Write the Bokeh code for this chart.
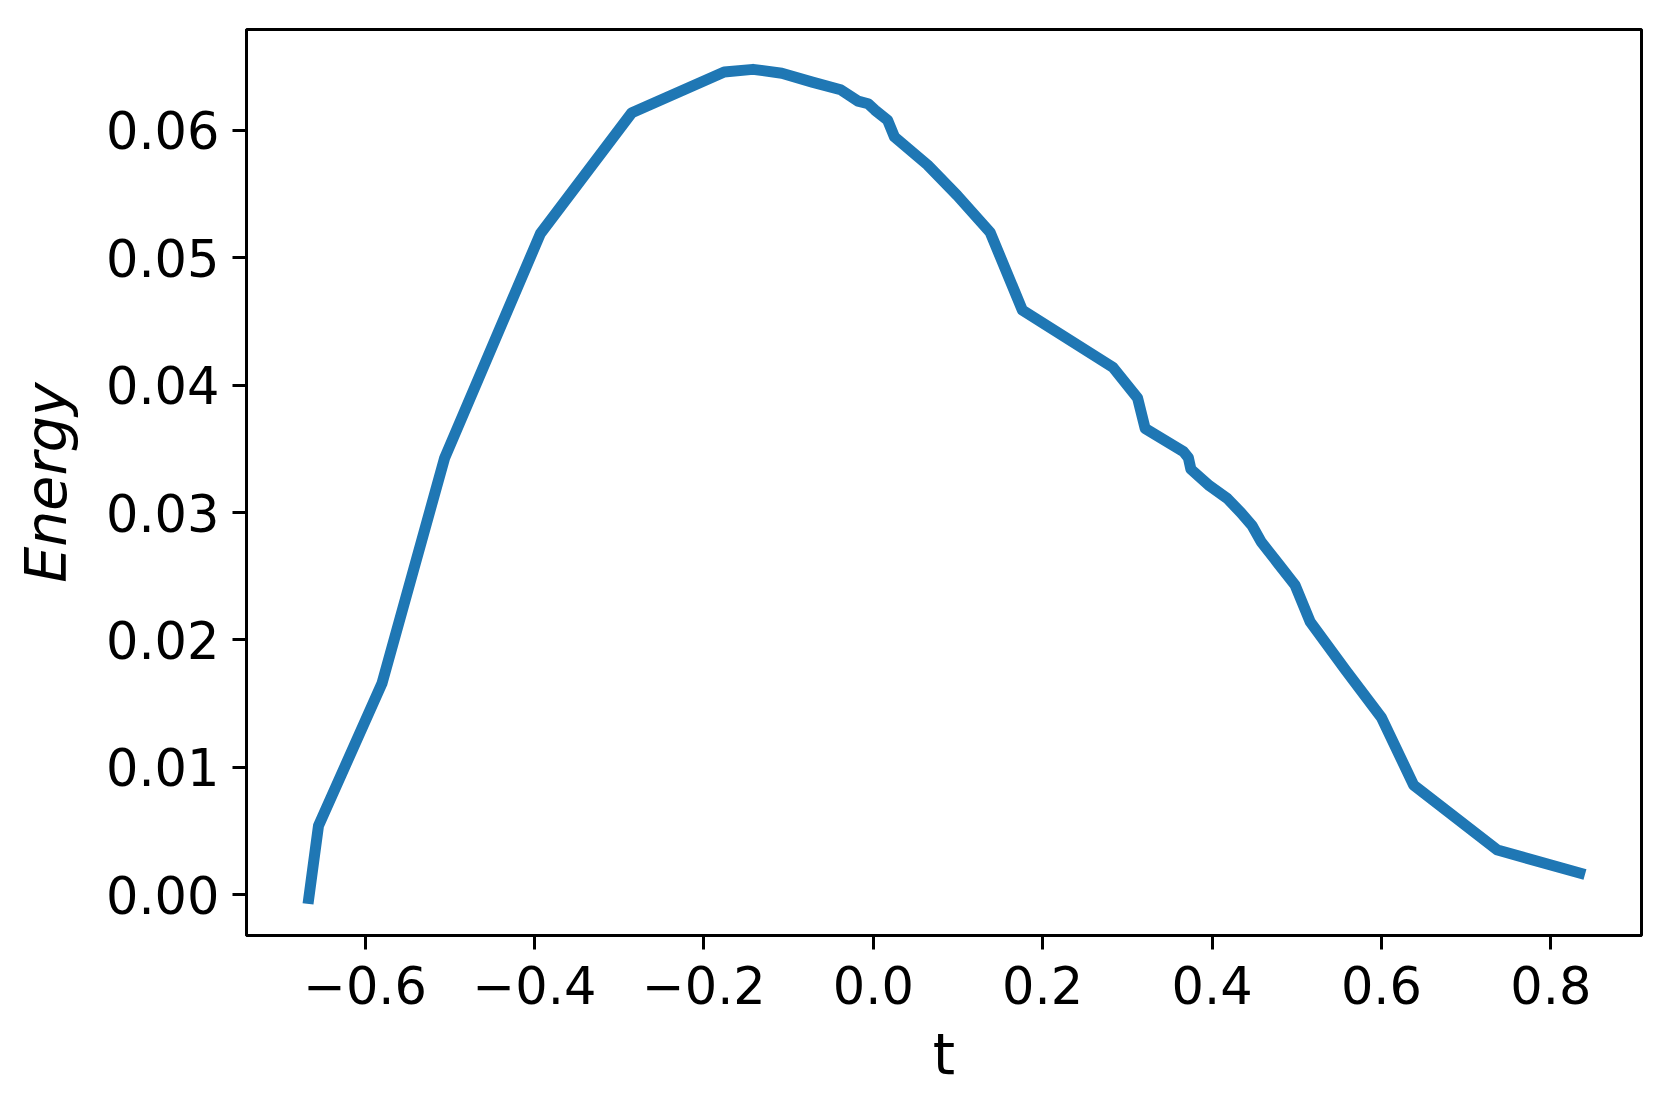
from bokeh.plotting import figure
from bokeh.models import Range1d, FixedTicker
from bokeh.embed import file_html
from bokeh.resources import INLINE

t = [-0.6665, -0.655, -0.580, -0.506, -0.393, -0.285, -0.176, -0.142, -0.108,
     -0.072, -0.0385, -0.018, -0.006, 0.002, 0.017, 0.025, 0.064, 0.099, 0.138,
     0.176, 0.283, 0.312, 0.321, 0.366, 0.372, 0.375, 0.397, 0.418, 0.434,
     0.447, 0.458, 0.478, 0.498, 0.516, 0.558, 0.600, 0.638, 0.737, 0.834]
energy = [-0.0003, 0.0054, 0.0166, 0.0343, 0.0519, 0.0614, 0.0646, 0.0648, 0.0645,
          0.0638, 0.0632, 0.0623, 0.0621, 0.0616, 0.0608, 0.0595, 0.0573, 0.0549, 0.0520,
          0.0459, 0.0414, 0.0390, 0.0366, 0.0348, 0.0343, 0.0334, 0.0321, 0.0311, 0.0300,
          0.0290, 0.0277, 0.0260, 0.0243, 0.0214, 0.0176, 0.0139, 0.0086, 0.0035, 0.0017]

x_ticks = [-0.6, -0.4, -0.2, 0.0, 0.2, 0.4, 0.6, 0.8]
x_tick_labels = ["\u22120.6", "\u22120.4", "\u22120.2", "0.0", "0.2", "0.4", "0.6", "0.8"]
y_ticks = [0.0, 0.01, 0.02, 0.03, 0.04, 0.05, 0.06]
y_tick_labels = ["0.00", "0.01", "0.02", "0.03", "0.04", "0.05", "0.06"]

FONT = "DejaVu Sans"

p = figure(output_backend="svg", toolbar_location=None,
           frame_width=1395, frame_height=906,
           x_range=Range1d(-0.740, 0.907), y_range=Range1d(-0.00321, 0.06793),
           min_border_left=246, min_border_right=22, min_border_top=29, min_border_bottom=165,
           background_fill_color="white", border_fill_color="white")

p.line(t, energy, line_color="#1f77b4", line_width=11, line_join="round", line_cap="square")

p.xgrid.visible = False
p.ygrid.visible = False
p.outline_line_color = "black"
p.outline_line_width = 3
p.outline_line_alpha = 1.0

p.xaxis.ticker = FixedTicker(ticks=x_ticks)
p.yaxis.ticker = FixedTicker(ticks=y_ticks)
p.xaxis.major_label_overrides = dict(zip(x_ticks, x_tick_labels))
p.yaxis.major_label_overrides = dict(zip(y_ticks, y_tick_labels))

for ax in (p.xaxis, p.yaxis):
    ax.axis_line_color = "black"
    ax.axis_line_width = 3
    ax.major_tick_line_color = "black"
    ax.major_tick_line_width = 3
    ax.major_tick_out = 14
    ax.major_tick_in = 0
    ax.minor_tick_line_color = None
    ax.major_label_text_font = FONT
    ax.major_label_text_font_size = "51px"
    ax.major_label_text_color = "black"
    ax.axis_label_text_font = FONT
    ax.axis_label_text_font_size = "57px"
    ax.axis_label_text_color = "black"

p.xaxis.axis_label = "t"
p.xaxis.axis_label_text_font_style = "normal"
p.xaxis.major_label_standoff = 16
p.xaxis.axis_label_standoff = 14

p.yaxis.axis_label = "Energy"
p.yaxis.axis_label_text_font_style = "italic"
p.yaxis.major_label_standoff = 13
p.yaxis.axis_label_standoff = 24

open("out.html", "w").write(file_html(p, INLINE))
